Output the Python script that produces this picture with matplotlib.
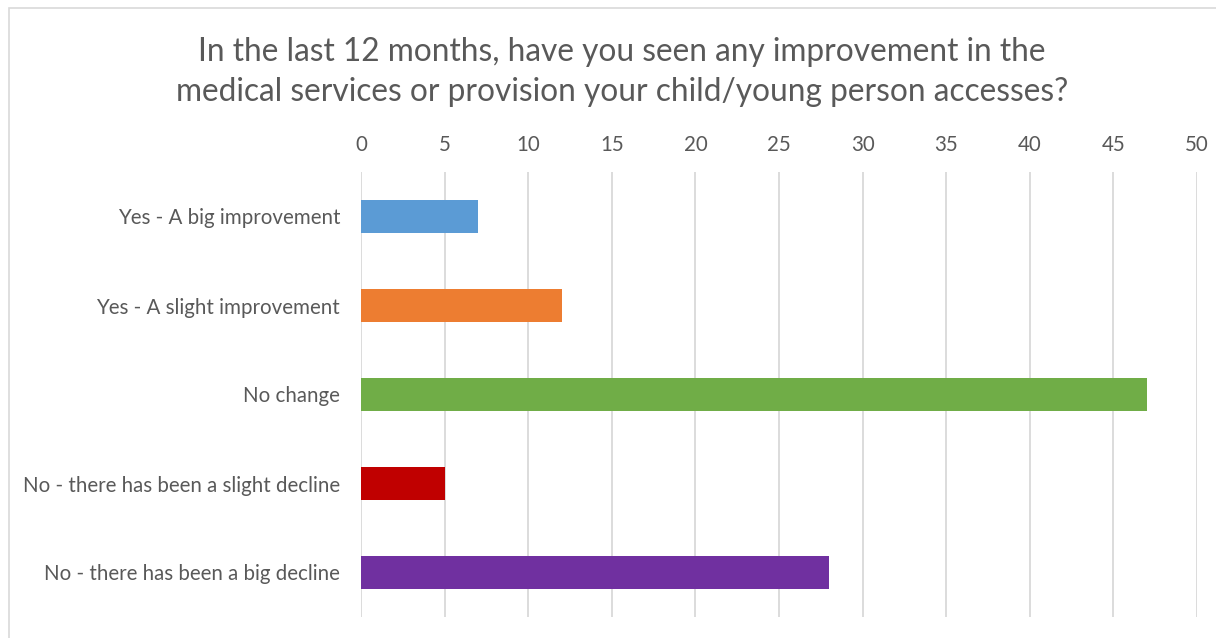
import matplotlib
matplotlib.use("Agg")
import matplotlib.pyplot as plt
from matplotlib.patches import Rectangle

categories = ["Yes - A big improvement", "Yes - A slight improvement", "No change",
              "No - there has been a slight decline", "No - there has been a big decline"]
values = [7, 12, 47, 5, 28]
colors = ["#5b9bd5", "#ed7d31", "#70ad47", "#c00000", "#7030a0"]
xticks = [0, 5, 10, 15, 20, 25, 30, 35, 40, 45, 50]
title = "In the last 12 months, have you seen any improvement in the\nmedical services or provision your child/young person accesses?"

plt.rcParams['font.family'] = ['Lato', 'DejaVu Sans']
W, H = 1216, 638
fig = plt.figure(figsize=(W/100, H/100), dpi=100)
fig.patches.append(Rectangle((9/W, -0.1), 1.2, 1 - 8/H + 0.1, transform=fig.transFigure,
                             fill=False, edgecolor="#d9d9d9", linewidth=1.2))
ax = fig.add_axes([361/W, 1 - 617/H, (1197-361)/W, (617-172)/H])
ypos = list(range(len(categories)))
ax.barh(ypos, values, height=0.36, color=colors, zorder=3)
ax.set_ylim(len(categories) - 0.5, -0.5)
ax.set_xlim(0, 50)
ax.set_xticks(xticks)
ax.set_yticks(ypos)
ax.set_yticklabels(categories)
ax.xaxis.tick_top()
ax.tick_params(axis='both', length=0, labelsize=14.8, colors="#595959")
ax.tick_params(axis='x', pad=12)
ax.tick_params(axis='y', pad=15)
ax.grid(axis='x', color="#d9d9d9", linewidth=1.3, zorder=0)
for s in ax.spines.values():
    s.set_visible(False)
fig.text(622/W, 1 - 72/H, title, ha='center', va='center', fontsize=22.8, color="#595959",
         linespacing=1.38)
fig.savefig("out.png", dpi=100)
